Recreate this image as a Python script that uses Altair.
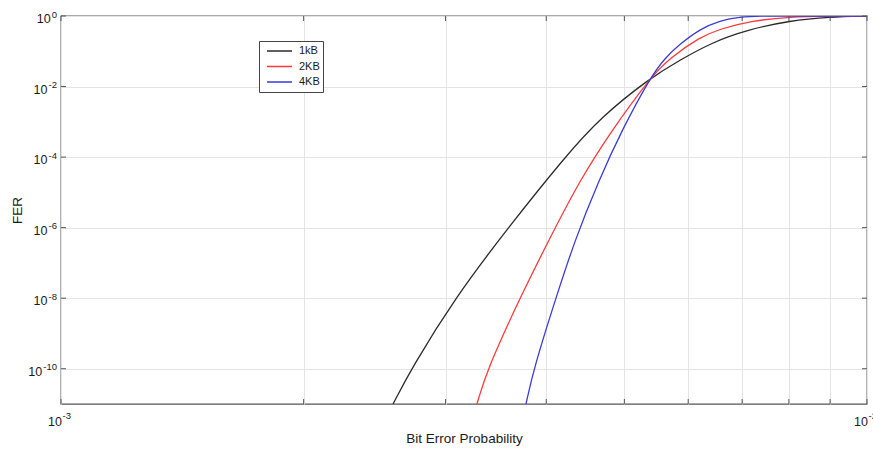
import math
import altair as alt
import pandas as pd

# ---- data ----
series_names = ["1kB", "2KB", "4KB"]
series_colors = ["#2b2b2b", "#ff3a3a", "#3b3bd8"]

p_1kb = [2.582e-3, 2.725e-3, 3.082e-3, 3.586e-3, 4.220e-3, 4.664e-3, 5.380e-3,
         5.861e-3, 6.441e-3, 7.098e-3, 8.027e-3, 8.998e-3, 1.0e-2]
fer_1kb = [1.0e-11, 1.07e-10, 1.02e-8, 9.9e-7, 1.01e-4, 1.29e-3, 1.75e-2,
           5.67e-2, 0.1834, 0.401, 0.746, 0.937, 1.0]

p_2kb = [3.281e-3, 3.386e-3, 3.711e-3, 4.031e-3, 4.405e-3, 4.827e-3, 5.380e-3,
         5.695e-3, 6.206e-3, 6.571e-3, 7.159e-3, 8.027e-3, 8.998e-3, 1.0e-2]
fer_2kb = [1.0e-11, 1.07e-10, 1.02e-8, 4.51e-7, 2.26e-5, 5.90e-4, 1.75e-2,
           6.46e-2, 0.254, 0.428, 0.722, 0.955, 0.997, 1.0]

p_4kb = [3.775e-3, 3.862e-3, 4.112e-3, 4.342e-3, 4.639e-3, 4.966e-3, 5.380e-3,
         5.614e-3, 5.861e-3, 6.206e-3, 6.571e-3, 6.957e-3, 7.366e-3, 8.0e-3, 1.0e-2]
fer_4kb = [1.0e-11, 1.07e-10, 1.02e-8, 4.51e-7, 1.98e-5, 5.90e-4, 1.75e-2,
           6.46e-2, 0.161, 0.428, 0.746, 0.937, 0.998, 1.0, 1.0]

# axis ticks and tick labels (base 10 with exponent)
x_ticks = [1e-3, 2e-3, 3e-3, 4e-3, 5e-3, 6e-3, 7e-3, 8e-3, 9e-3, 1e-2]
x_label_vals = [1e-3, 1e-2]
x_label_exps = ["-3", "-2"]
y_ticks = [1.0, 1e-2, 1e-4, 1e-6, 1e-8, 1e-10]
y_label_exps = ["0", "-2", "-4", "-6", "-8", "-10"]

rows = []
for name, ps, fs in [("1kB", p_1kb, fer_1kb), ("2KB", p_2kb, fer_2kb), ("4KB", p_4kb, fer_4kb)]:
    for i, (p, f) in enumerate(zip(ps, fs)):
        rows.append({"series": name, "p": p, "fer": f, "order": i})
df = pd.DataFrame(rows)
xt = pd.DataFrame({"p": x_ticks})
yt = pd.DataFrame({"fer": y_ticks})
xl = pd.DataFrame({"p": x_label_vals, "base": ["10"] * len(x_label_vals), "exp": x_label_exps})
yl = pd.DataFrame({"fer": y_ticks, "base": ["10"] * len(y_ticks), "exp": y_label_exps})

W, H = 806, 388
FONT = "Liberation Sans"
TXT = "#1a1a1a"
BASE_FS = 12.5
EXP_FS = 9.5

xscale = alt.Scale(type="log", domain=[1e-3, 1e-2], nice=False)
yscale = alt.Scale(type="log", domain=[1e-11, 1.0], nice=False)

lines = alt.Chart(df).mark_line(strokeWidth=1.3, interpolate="basis", clip=True).encode(
    x=alt.X("p:Q", scale=xscale,
            axis=alt.Axis(values=x_ticks, grid=True, ticks=False, labels=False, domain=False,
                          title="Bit Error Probability", titleX=W / 2, titleY=34,
                          titleBaseline="middle", titleFontSize=13.5, titleFontWeight="normal")),
    y=alt.Y("fer:Q", scale=yscale,
            axis=alt.Axis(values=y_ticks, grid=True, ticks=False, labels=False, domain=False,
                          title="FER", titleX=-44, titleY=H / 2, titleBaseline="middle",
                          titleFontSize=13.5, titleFontWeight="normal")),
    color=alt.Color("series:N", scale=alt.Scale(domain=series_names, range=series_colors),
                    legend=alt.Legend(title=None)),
    order="order:Q",
)

# inward tick marks (MATLAB style)
tick_len = 5
xt_bottom = alt.Chart(xt).mark_rule(color="#555", strokeWidth=1).encode(
    x=alt.X("p:Q", scale=xscale), y=alt.value(H), y2=alt.value(H - tick_len))
xt_top = alt.Chart(xt).mark_rule(color="#555", strokeWidth=1).encode(
    x=alt.X("p:Q", scale=xscale), y=alt.value(0), y2=alt.value(tick_len))
yt_left = alt.Chart(yt).mark_rule(color="#555", strokeWidth=1).encode(
    y=alt.Y("fer:Q", scale=yscale), x=alt.value(0), x2=alt.value(tick_len))
yt_right = alt.Chart(yt).mark_rule(color="#555", strokeWidth=1).encode(
    y=alt.Y("fer:Q", scale=yscale), x=alt.value(W), x2=alt.value(W - tick_len))

# tick labels drawn as base "10" plus raised exponent
xl_base = alt.Chart(xl).mark_text(align="right", baseline="alphabetic", dx=1, font=FONT,
                                  fontSize=BASE_FS, color=TXT).encode(
    x=alt.X("p:Q", scale=xscale), y=alt.value(H + 22), text="base:N")
xl_exp = alt.Chart(xl).mark_text(align="left", baseline="alphabetic", dx=1.5, font=FONT,
                                 fontSize=EXP_FS, color=TXT).encode(
    x=alt.X("p:Q", scale=xscale), y=alt.value(H + 15), text="exp:N")

yl_exp = alt.Chart(yl).mark_text(align="right", baseline="alphabetic", dy=1.5, font=FONT,
                                 fontSize=EXP_FS, color=TXT).encode(
    y=alt.Y("fer:Q", scale=yscale), x=alt.value(-4), text="exp:N")
yl_base = alt.Chart(yl).transform_calculate(
    bx="-5 - 5.3*length(datum.exp) + (indexof(datum.exp, '-') >= 0 ? 2.1 : 0)"
).mark_text(align="right", baseline="alphabetic", dy=7, font=FONT,
            fontSize=BASE_FS, color=TXT).encode(
    y=alt.Y("fer:Q", scale=yscale), x=alt.X("bx:Q", scale=None), text="base:N")

chart = alt.layer(lines, xt_bottom, xt_top, yt_left, yt_right,
                  xl_base, xl_exp, yl_exp, yl_base).properties(
    width=W, height=H,
    autosize=alt.AutoSizeParams(type="none"),
    padding={"left": 61, "top": 16, "right": 6, "bottom": 46},
    background="white",
).configure_view(
    stroke="#555", strokeWidth=1.3
).configure_axis(
    labelFont=FONT, titleFont=FONT, labelColor=TXT, titleColor=TXT,
    gridColor="#e4e4e4", gridWidth=1,
).configure_legend(
    orient="none", legendX=198, legendY=25, fillColor="white", strokeColor="#444",
    padding=3, symbolType="stroke", symbolSize=625, symbolStrokeWidth=1.3, symbolOffset=4,
    clipHeight=14, rowPadding=1.5,
    labelFont=FONT, labelFontSize=11, labelColor=TXT, labelOffset=6,
)

chart.save("out.html", embed_options={"renderer": "svg", "actions": False})
